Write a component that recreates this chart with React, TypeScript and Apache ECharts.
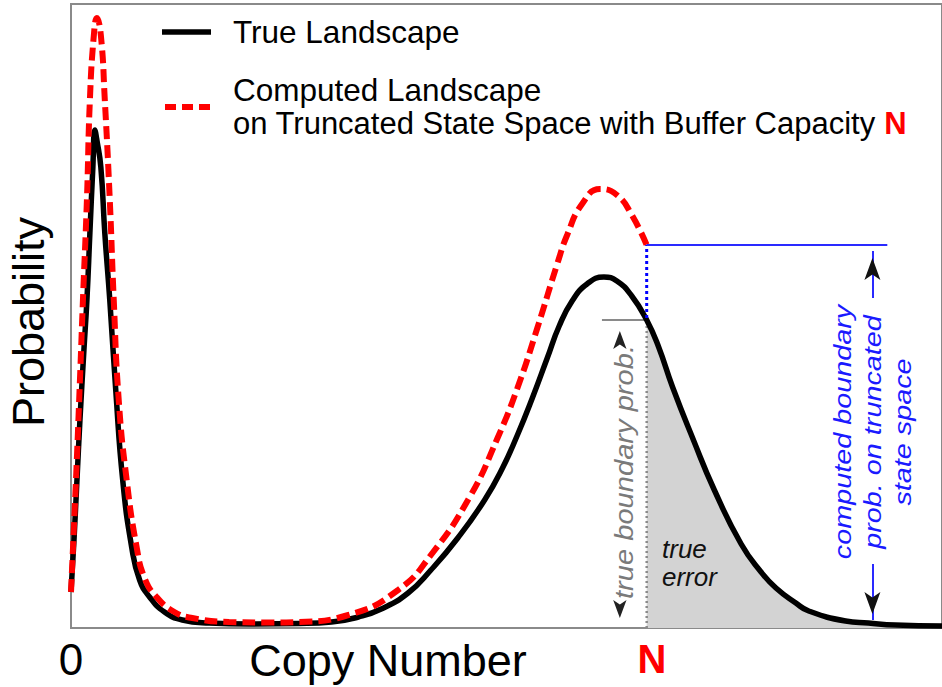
import React, { useEffect, useRef } from "react";
import * as echarts from "echarts";

// Copy-number axis (arbitrary units) and probability (arbitrary units)
const trueLandscape: [number, number][] = [
  [0, 36], [3, 88], [6, 148], [9, 208], [13, 278], [16, 328], [19, 395], [22, 461], [24, 498],
  [26, 488], [30, 461], [34, 395], [39, 328], [45, 238], [52, 148], [61, 81], [69, 48], [79, 31],
  [94, 16], [112, 8], [139, 5], [179, 4], [229, 4.5], [262, 6], [289, 11], [312, 19], [339, 35],
  [362, 58], [389, 90], [416, 128], [434, 160], [449, 193], [464, 230], [479, 270], [491, 302],
  [504, 327], [519, 344], [536, 351], [549, 347], [564, 332], [579, 308], [591, 281], [605, 241],
  [626, 188], [647, 138], [674, 84], [694, 56], [709, 40], [729, 25], [742, 17], [779, 7],
  [802, 5], [829, 3], [876, 2],
];

const computedLandscape: [number, number][] = [
  [0, 36], [5, 148], [9, 248], [12, 328], [16, 428], [19, 528], [23, 593], [26, 610], [30, 593],
  [34, 528], [39, 428], [43, 328], [48, 228], [56, 148], [66, 81], [74, 50], [86, 31], [104, 16],
  [122, 10], [159, 6], [199, 5.5], [229, 6], [279, 13], [329, 38], [362, 73], [401, 131],
  [429, 190], [449, 240], [469, 300], [489, 364], [499, 393], [514, 424], [532, 439], [549, 433],
  [564, 413], [579, 383],
];

const N = 579; // buffer capacity
const trueBoundaryProb = 308;
const computedBoundaryProb = 383;
const xMax = 876;
const yMax = 624;
const grayArrowX = 552;
const grayGuideStart = 534;
const blueArrowX = 806;
const blueGuideEnd = 821;

const FONT = '"Liberation Sans", Arial, Helvetica, sans-serif';

export default function App() {
  const ref = useRef<HTMLDivElement>(null);

  useEffect(() => {
    if (!ref.current) return;
    const chart = echarts.init(ref.current, undefined, { renderer: "svg" });
    const errorArea = trueLandscape.filter((p) => p[0] >= N);

    const option: any = {
      animation: false,
      grid: {
        left: 71,
        right: -5,
        top: 4,
        bottom: 59,
        show: true,
        borderColor: "#8a8a8a",
        borderWidth: 2,
        backgroundColor: "transparent",
      },
      xAxis: {
        type: "value",
        min: 0,
        max: xMax,
        axisLine: { show: false },
        axisTick: { show: false },
        axisLabel: { show: false },
        splitLine: { show: false },
      },
      yAxis: {
        type: "value",
        min: 0,
        max: yMax,
        axisLine: { show: false },
        axisTick: { show: false },
        axisLabel: { show: false },
        splitLine: { show: false },
      },
      series: [
        {
          name: "true error",
          type: "line",
          data: errorArea,
          smooth: 0.5,
          symbol: "none",
          lineStyle: { width: 0, opacity: 0 },
          areaStyle: { color: "#d3d3d3", opacity: 1 },
          z: 1,
          silent: true,
        },
        {
          name: "boundary guide gray",
          type: "line",
          data: [[N, 0], [N, trueBoundaryProb]],
          symbol: "none",
          lineStyle: { color: "#8a8a8a", width: 2.5, type: [2, 3] },
          z: 2,
          silent: true,
        },
        {
          name: "boundary level gray",
          type: "line",
          data: [[grayGuideStart, trueBoundaryProb], [N, trueBoundaryProb]],
          symbol: "none",
          lineStyle: { color: "#8a8a8a", width: 2 },
          z: 2,
          silent: true,
          markPoint: {
            silent: true,
            symbol: "arrow",
            symbolSize: [10, 18],
            label: { show: false },
            itemStyle: { color: "#222" },
            data: [
              { coord: [grayArrowX, trueBoundaryProb - 11], symbolRotate: 0 },
              { coord: [grayArrowX, 1 + 9], symbolRotate: 180 },
            ],
          },
        },
        {
          name: "True Landscape",
          type: "line",
          data: trueLandscape,
          smooth: 0.5,
          symbol: "none",
          lineStyle: { color: "#000", width: 5.5 },
          z: 3,
          silent: true,
        },
        {
          name: "Computed Landscape",
          type: "line",
          data: computedLandscape,
          smooth: 0.5,
          symbol: "none",
          lineStyle: { color: "#ff0000", width: 6, type: [13, 6] },
          z: 4,
          silent: true,
        },
        {
          name: "boundary guide blue",
          type: "line",
          data: [[N, trueBoundaryProb + 2], [N, computedBoundaryProb]],
          symbol: "none",
          lineStyle: { color: "#0000ff", width: 3, type: [3, 3] },
          z: 5,
          silent: true,
        },
        {
          name: "boundary level blue",
          type: "line",
          data: [[N, computedBoundaryProb], [blueGuideEnd, computedBoundaryProb]],
          symbol: "none",
          lineStyle: { color: "#2a2aff", width: 2 },
          z: 5,
          silent: true,
          markLine: {
            silent: true,
            symbol: ["none", "none"],
            label: { show: false },
            lineStyle: { color: "#2a2aff", width: 2, type: "solid" },
            data: [
              [{ coord: [blueArrowX, computedBoundaryProb - 6] }, { coord: [blueArrowX, 330] }],
              [{ coord: [blueArrowX, 64] }, { coord: [blueArrowX, 8] }],
            ],
          },
          markPoint: {
            silent: true,
            symbol: "arrow",
            symbolSize: [12, 22],
            label: { show: false },
            itemStyle: { color: "#111" },
            data: [
              { coord: [blueArrowX, computedBoundaryProb - 13], symbolRotate: 0 },
              { coord: [blueArrowX, 3 + 11], symbolRotate: 180 },
            ],
          },
        },
      ],
      graphic: [
        {
          type: "line",
          z: 100,
          shape: { x1: 162, y1: 32, x2: 211, y2: 32 },
          style: { stroke: "#000", lineWidth: 5.5 },
        },
        {
          type: "line",
          z: 100,
          shape: { x1: 165, y1: 107, x2: 213, y2: 107 },
          style: { stroke: "#ff0000", lineWidth: 6, lineDash: [11, 6] },
        },
        {
          type: "text",
          z: 100,
          x: 233,
          y: 32,
          style: {
            text: "True Landscape",
            font: `31.5px ${FONT}`,
            fill: "#000",
            align: "left",
            verticalAlign: "middle",
          },
        },
        {
          type: "text",
          z: 100,
          x: 233,
          y: 90,
          style: {
            text: "Computed Landscape",
            font: `31.5px ${FONT}`,
            fill: "#000",
            align: "left",
            verticalAlign: "middle",
          },
        },
        {
          type: "text",
          z: 100,
          x: 233,
          y: 123,
          style: {
            text: "{a|on Truncated State Space with Buffer Capacity }{n|N}",
            align: "left",
            verticalAlign: "middle",
            rich: {
              a: { font: `31px ${FONT}`, fill: "#000" },
              n: { font: `bold 31px ${FONT}`, fill: "#ff0000" },
            },
          },
        },
        {
          type: "text",
          z: 100,
          x: 28,
          y: 322,
          rotation: Math.PI / 2,
          style: {
            text: "Probability",
            font: `45px ${FONT}`,
            fill: "#000",
            align: "center",
            verticalAlign: "middle",
          },
        },
        {
          type: "text",
          z: 100,
          x: 388,
          y: 660,
          style: {
            text: "Copy Number",
            font: `45px ${FONT}`,
            fill: "#000",
            align: "center",
            verticalAlign: "middle",
          },
        },
        {
          type: "text",
          z: 100,
          x: 71,
          y: 659,
          style: {
            text: "0",
            font: `44px ${FONT}`,
            fill: "#000",
            align: "center",
            verticalAlign: "middle",
          },
        },
        {
          type: "text",
          z: 100,
          x: 652,
          y: 659,
          style: {
            text: "N",
            font: `bold 40px ${FONT}`,
            fill: "#ff0000",
            align: "center",
            verticalAlign: "middle",
          },
        },
        {
          type: "text",
          z: 100,
          x: 624,
          y: 472,
          rotation: Math.PI / 2,
          scaleX: 1.12,
          style: {
            text: "true boundary prob.",
            font: `italic 26px ${FONT}`,
            fill: "#7a7a7a",
            align: "center",
            verticalAlign: "middle",
          },
        },
        {
          type: "text",
          z: 100,
          x: 662,
          y: 563,
          style: {
            text: "true\nerror",
            font: `italic 26px ${FONT}`,
            lineHeight: 28,
            fill: "#111",
            align: "left",
            verticalAlign: "middle",
          },
        },
        {
          type: "text",
          z: 100,
          x: 873,
          y: 432,
          rotation: Math.PI / 2,
          scaleX: 1.2,
          style: {
            text: "computed boundary\nprob. on truncated\nstate space",
            font: `italic 24px ${FONT}`,
            lineHeight: 30,
            fill: "#1a1aff",
            align: "center",
            verticalAlign: "middle",
          },
        },
      ],
    };

    chart.setOption(option);
    return () => chart.dispose();
  }, []);

  return (
    <div
      ref={ref}
      style={{ position: "fixed", left: 0, top: 0, width: 942, height: 687, background: "#fff" }}
    />
  );
}
